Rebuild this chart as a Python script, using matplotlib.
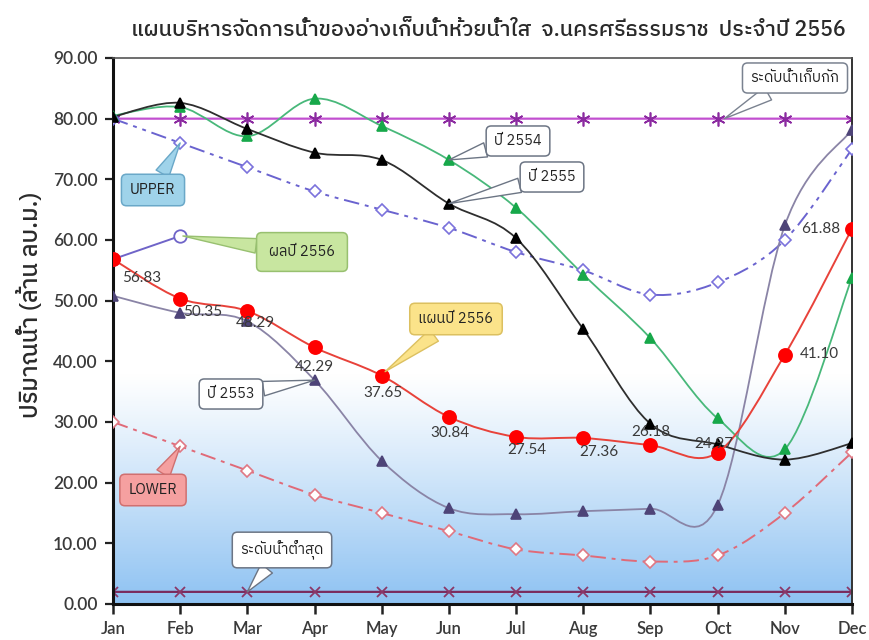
import matplotlib
matplotlib.use("Agg")
import numpy as np
import matplotlib.pyplot as plt
from matplotlib import font_manager, ft2font
from matplotlib.path import Path
from matplotlib.patches import PathPatch
from matplotlib.colors import LinearSegmentedColormap

# ---------------------------------------------------------------- data
months = ["Jan", "Feb", "Mar", "Apr", "May", "Jun",
          "Jul", "Aug", "Sep", "Oct", "Nov", "Dec"]
plan_2556 = [56.83, 50.35, 48.29, 42.29, 37.65, 30.84,
             27.54, 27.36, 26.18, 24.97, 41.10, 61.88]
result_2556 = [56.83, 60.66]
upper_rule = [80.0, 76.0, 72.0, 68.0, 65.0, 62.0, 58.0, 55.0, 51.0, 53.0, 60.0, 75.0]
lower_rule = [30.0, 26.0, 22.0, 18.0, 15.0, 12.0, 9.0, 8.0, 7.0, 8.0, 15.0, 25.0]
storage_level = [80.0, 80.0, 80.0, 80.0, 80.0, 80.0, 80.0, 80.0, 80.0, 80.0, 80.0, 80.0]
min_level = [2.0, 2.0, 2.0, 2.0, 2.0, 2.0, 2.0, 2.0, 2.0, 2.0, 2.0, 2.0]
year_2553 = [50.8, 48.0, 46.6, 36.9, 23.6, 15.8, 14.8, 15.3, 15.7, 16.3, 62.4, 78.2]
year_2554 = [80.5, 81.9, 77.1, 83.3, 78.8, 73.2, 65.3, 54.3, 43.8, 30.6, 25.5, 53.8]
year_2555 = [80.3, 82.6, 78.3, 74.4, 73.2, 66.0, 60.3, 45.3, 29.7, 26.3, 23.8, 26.5]
yticks = [0, 10, 20, 30, 40, 50, 60, 70, 80, 90]

title = "แผนบริหารจัดการน้ำของอ่างเก็บน้ำห้วยน้ำใส  จ.นครศรีธรรมราช  ประจำปี 2556"
ylabel = "ปริมาณน้ำ (ล้าน ลบ.ม.)"


# ---------------------------------------------------------------- fonts
def find_thai_family():
    found = []
    for fe in font_manager.fontManager.ttflist:
        try:
            cmap = ft2font.FT2Font(fe.fname).get_charmap()
        except Exception:
            continue
        if 0x0E19 in cmap and 0x0E49 in cmap:
            found.append(fe.name)
    if not found:
        return None
    found.sort(key=lambda n: (0 if "Thai" in n else 1, 0 if "Sans" in n else 1, n))
    return found[0]


thai = find_thai_family()
latin = ["Lato", "DejaVu Sans"]
thai_fam = ([thai] if thai else []) + latin
plt.rcParams["font.family"] = latin

TEXT = "#3a3a3a"


def smooth_path(xs, ys):
    """Catmull-Rom curve through the points, as cubic Bezier segments."""
    pts = np.column_stack([xs, ys]).astype(float)
    n = len(pts)
    verts = [pts[0]]
    codes = [Path.MOVETO]
    for i in range(n - 1):
        p0 = pts[i - 1] if i > 0 else pts[i]
        p1, p2 = pts[i], pts[i + 1]
        p3 = pts[i + 2] if i + 2 < n else pts[i + 1]
        verts += [p1 + (p2 - p0) / 6.0, p2 - (p3 - p1) / 6.0, p2]
        codes += [Path.CURVE4] * 3
    return Path(verts, codes)


def series(ax, ys, color, lw=1.3, ls="-", marker=None, ms=7, mfc=None,
           mec=None, mew=1.2, z=3):
    xs = np.arange(len(ys))
    ax.add_patch(PathPatch(smooth_path(xs, ys), fill=False, ec=color, lw=lw,
                           ls=ls, zorder=z, capstyle="butt"))
    if marker:
        ax.plot(xs, ys, ls="none", marker=marker, ms=ms,
                mfc=mfc if mfc else color, mec=mec if mec else color,
                mew=mew, zorder=z + 0.5)


fig = plt.figure(figsize=(8.69, 6.40), dpi=100)
ax = fig.add_axes([113 / 869, 1 - 604 / 640, (852 - 113) / 869, (604 - 58) / 640])

# blue fade at the bottom of the plot area
yy = np.linspace(90, 0, 400)
t = np.clip((38 - yy) / 38, 0, 1) ** 1.1
grad = t[:, None]
cmap = LinearSegmentedColormap.from_list("fade", ["#ffffff", "#8ec2f2"])
ax.imshow(grad, extent=[0, 11, 0, 90], aspect="auto", cmap=cmap,
          vmin=0, vmax=1, zorder=0, interpolation="bilinear")

# reference levels
series(ax, storage_level, "#c24fd0", lw=1.6, marker=(6, 2, 0), ms=10,
       mec="#8b2aa0", mew=1.2, z=2)
series(ax, min_level, "#7a2c5e", lw=1.6, marker="x", ms=7,
       mec="#8b3868", mew=1.3, z=2)

# rule curves
series(ax, upper_rule, "#6a63cf", lw=1.4, ls=(0, (8, 3, 2, 3, 2, 3)),
       marker="D", ms=6.5, mfc="white", mec="#7b72dc", mew=1.2)
series(ax, lower_rule, "#e06a78", lw=1.4, ls=(0, (8, 3, 2, 3)),
       marker="D", ms=6.5, mfc="white", mec="#e07884", mew=1.2)

# past years
series(ax, year_2553, "#8a84a6", lw=1.3, marker="^", ms=7.5, mfc="#4e4478",
       mec="#4e4478")
series(ax, year_2554, "#48b87a", lw=1.3, marker="^", ms=7.5, mfc="#17a84a",
       mec="#17a84a")
series(ax, year_2555, "#2e2e2e", lw=1.3, marker="^", ms=7.5, mfc="#000000",
       mec="#000000")

# this year
series(ax, result_2556, "#6f64c8", lw=1.4, marker="o", ms=9, mfc="white",
       mec="#6f64c8", mew=1.3, z=4)
series(ax, plan_2556, "#e8423a", lw=1.4, marker="o", ms=9.5, mfc="#ff0000",
       mec="#ff0000", z=5)

# value labels on the plan line
label_offsets = [(9, -19, "left"), (3, -13, "left"), (-12, -12, "left"),
                 (0, -20, "center"), (1, -17, "center"), (1, -16, "center"),
                 (11, -13, "center"), (-4, -14, "left"), (0, 13, "center"),
                 (-4, 9, "center"), (15, 1, "left"), (-12, 0, "right")]
for i, v in enumerate(plan_2556):
    dx, dy, ha = label_offsets[i]
    ax.annotate(f"{v:.2f}", xy=(i, v), xytext=(dx, dy),
                textcoords="offset pixels", ha=ha, va="center",
                fontsize=11, color=TEXT, zorder=7)

# callouts
callouts = [
    ("ระดับน้ำเก็บกัก", 9.1, 80.0, (795, 562), "white", "#7a8290", 0.55),
    ("ปี 2554", 5, 73.2, (518, 499), "white", "#6c7584", 0.55),
    ("ปี 2555", 5, 66.0, (552, 463), "white", "#6c7584", 0.55),
    ("UPPER", 1, 76.0, (153, 450), "#9fd3ea", "#6aa8c8", 0.6),
    ("ผลปี 2556", 1.04, 60.66, (302, 388), "#c8e6a0", "#98c070", 0.85),
    ("แผนปี 2556", 4.05, 38.3, (456, 321), "#fbe38a", "#dcc060", 0.6),
    ("ปี 2553", 3, 36.9, (231, 246), "white", "#6c7584", 0.55),
    ("LOWER", 1, 26.0, (153, 150), "#f5a0a0", "#d07070", 0.6),
    ("ระดับน้ำต่ำสุด", 2, 2.0, (282, 90), "white", "#6c7584", 0.55),
]
for txt, x, y, (fx, fy), fc, ec, pad in callouts:
    ax.annotate(
        txt, xy=(x, y), xycoords="data", xytext=(fx, fy),
        textcoords="figure pixels", ha="center", va="center",
        fontsize=10.5, color="#222222", family=thai_fam, zorder=8,
        bbox=dict(boxstyle=f"round,pad={pad},rounding_size=0.35", fc=fc,
                  ec=ec, lw=1.1),
        arrowprops=dict(arrowstyle="wedge,tail_width=1.0,shrink_factor=0.5",
                        fc=fc, ec=ec, lw=1.0, shrinkA=0, shrinkB=0),
    )

# axes
ax.set_xlim(0, 11)
ax.set_ylim(0, 90)
ax.set_xticks(range(len(months)))
ax.set_xticklabels(months)
ax.set_yticks(yticks)
ax.set_yticklabels([f"{v:.2f}" for v in yticks])
ax.tick_params(axis="x", direction="out", length=7, width=1.8, pad=5,
               labelsize=12, labelcolor=TEXT, color="#222222")
ax.tick_params(axis="y", direction="out", length=6, width=1.6, pad=5,
               labelsize=12.5, labelcolor=TEXT, color="#222222")
for lbl in ax.get_xticklabels() + ax.get_yticklabels():
    lbl.set_fontweight("semibold")
ax.spines["left"].set_linewidth(2.2)
ax.spines["bottom"].set_linewidth(2.2)
ax.spines["left"].set_color("#111111")
ax.spines["bottom"].set_color("#111111")
ax.spines["top"].set_linewidth(1.2)
ax.spines["top"].set_color("#555555")
ax.spines["right"].set_linewidth(1.4)
ax.spines["right"].set_color("#333333")

fig.text(30 / 869, 1 - 305 / 640, ylabel, rotation=90, ha="center",
         va="center", fontsize=17, color="#2a2a2a", family=thai_fam,
         fontweight="medium")
fig.text(488 / 869, 1 - 30 / 640, title, ha="center", va="center",
         fontsize=15.5, color="#2a2a2a", family=thai_fam, fontweight="medium")

fig.savefig("out.png", dpi=100)
